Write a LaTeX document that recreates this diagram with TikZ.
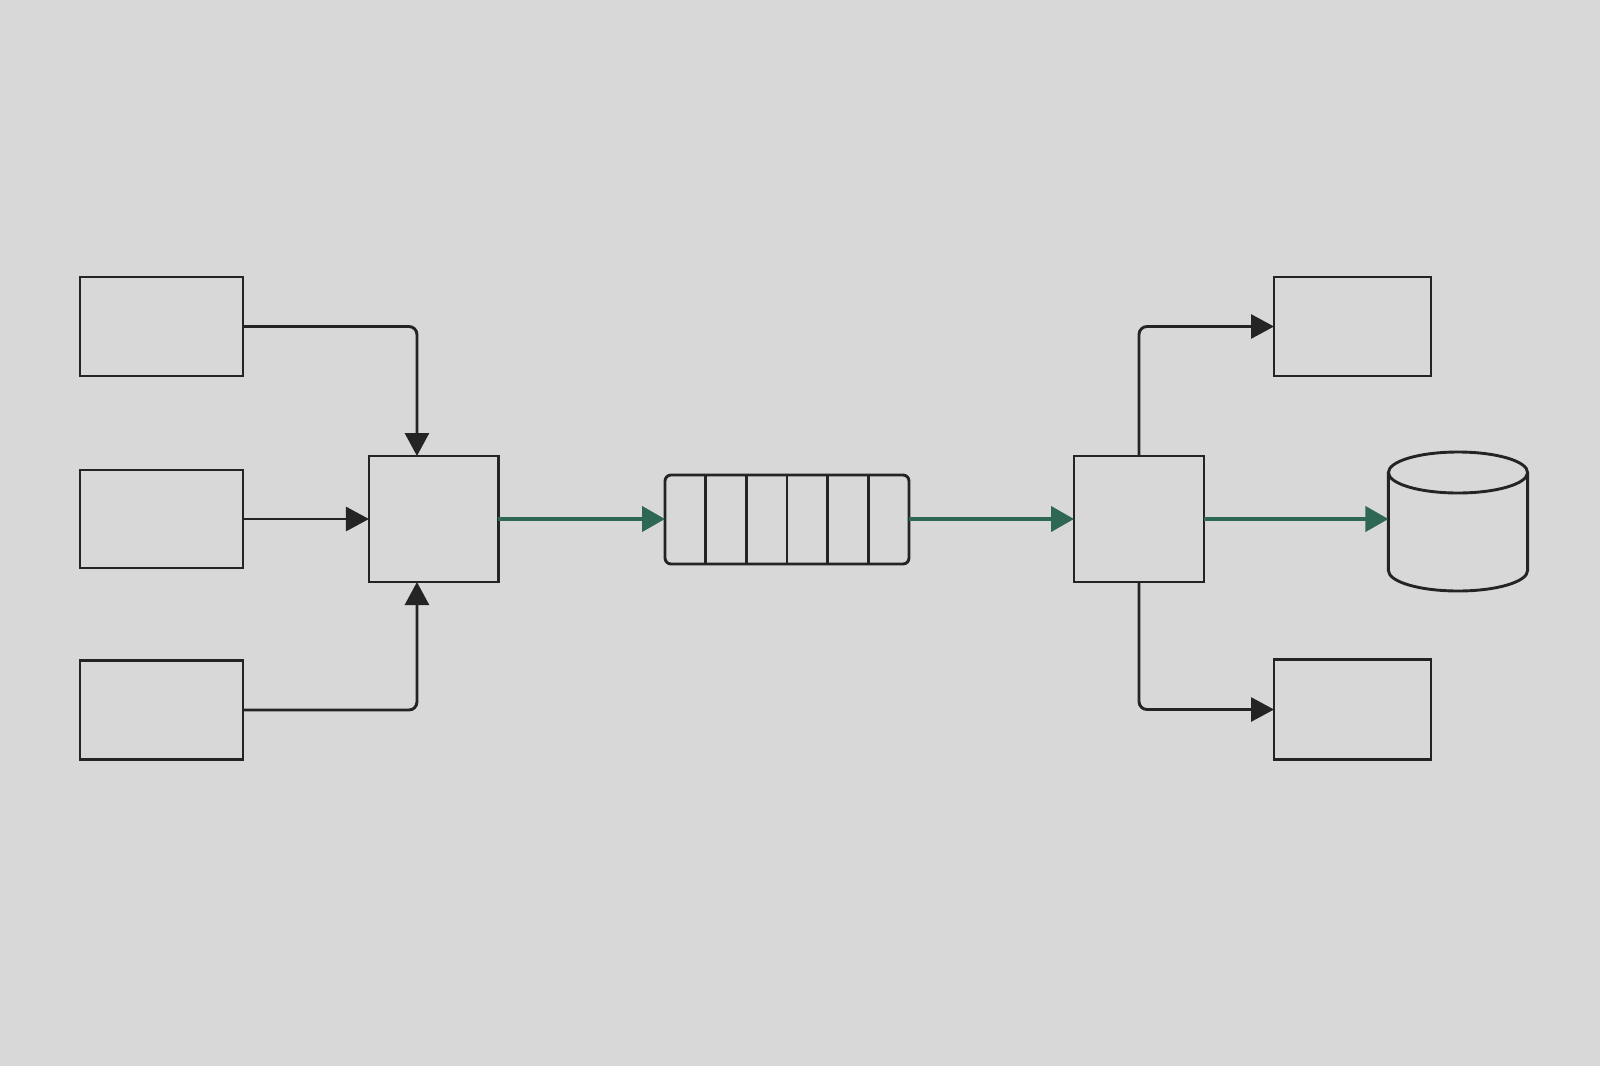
\documentclass[tikz,border=0pt]{standalone}
\usetikzlibrary{arrows.meta,calc}
\definecolor{bgcol}{RGB}{216,216,216}
\definecolor{ink}{RGB}{36,36,36}
\definecolor{flow}{RGB}{46,104,84}
\tikzset{
  box/.style={draw=ink, line width=2.9pt, inner sep=0pt, outer sep=0pt, rectangle},
  conn/.style={draw=ink, line width=2.9pt, rounded corners=8pt, -{Triangle[length=23pt,width=24pt]}},
  flowconn/.style={draw=flow, line width=4.2pt, -{Triangle[length=23pt,width=25pt]}},
}
\begin{document}
\begin{tikzpicture}[x=1pt,y=-1pt]
\fill[bgcol] (0,0) rectangle (1600,1066);
\useasboundingbox (0,0) rectangle (1600,1066);
% sources
\node[box, minimum width=163pt, minimum height=99pt] (s1) at (161.5,326.5) {};
\node[box, minimum width=163pt, minimum height=98pt] (s2) at (161.5,519) {};
\node[box, minimum width=163pt, minimum height=99pt] (s3) at (161.5,710) {};
% merger
\node[box, minimum width=129.5pt, minimum height=126pt] (M) at (433.7,519) {};
\coordinate (mtop) at ([xshift=48pt]M.north west);
\coordinate (mbot) at ([xshift=48pt]M.south west);
% queue
\node[box, rounded corners=6pt, minimum width=244pt, minimum height=89pt] (Q) at (787,519.5) {};
\foreach \k in {1,...,5}
  \draw[ink, line width=2.9pt] ($(Q.north west)!\k/6!(Q.north east)$) -- ($(Q.south west)!\k/6!(Q.south east)$);
% splitter
\node[box, minimum width=130pt, minimum height=126pt] (S) at (1139,519) {};
% sinks
\node[box, minimum width=157pt, minimum height=99pt] (r1) at (1352.5,326.5) {};
\node[box, minimum width=157pt, minimum height=100pt] (r2) at (1352.5,709.5) {};
% database
\node[inner sep=0pt, outer sep=0pt, minimum width=139.2pt, minimum height=139pt] (db) at (1458,521.5) {};
\draw[ink, line width=2.9pt] ([yshift=-20.5pt]db.north) ellipse[x radius=69.6pt, y radius=20.5pt];
\draw[ink, line width=2.9pt] ([yshift=-20.5pt]db.north west) -- ([yshift=20.5pt]db.south west)
  arc[start angle=180, end angle=360, x radius=69.6pt, y radius=20.5pt] -- ([yshift=-20.5pt]db.north east);
% connectors
\draw[conn] (s1.east) -| (mtop);
\draw[conn] (s2.east) -- (M.west);
\draw[conn] (s3.east) -| (mbot);
\draw[flowconn] (M.east) -- (Q.west |- M.east);
\draw[flowconn] (Q.east |- M.east) -- (S.west);
\draw[conn] (S.north) |- (r1.west);
\draw[conn] (S.south) |- (r2.west);
\draw[flowconn] (S.east) -- (S.east -| db.west);
\end{tikzpicture}
\end{document}
